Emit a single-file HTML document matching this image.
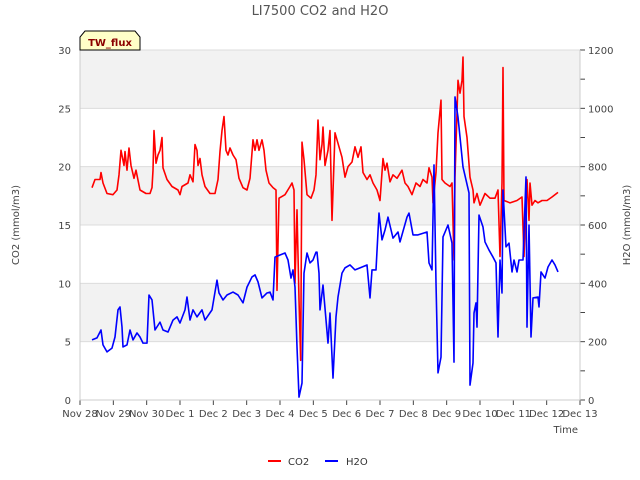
<!DOCTYPE html>
<html><head><meta charset="utf-8"><style>
body{margin:0;background:#fff;}
svg{display:block;font-family:"DejaVu Sans","Liberation Sans",sans-serif;}
</style></head><body>
<svg id="c" width="640" height="480"></svg>
<script>
const days=[0.36,0.45,0.60,0.63,0.69,0.81,0.99,1.11,1.17,1.23,1.32,1.35,1.41,1.47,1.53,1.62,1.68,1.80,1.98,2.10,2.16,2.19,2.22,2.28,2.34,2.40,2.46,2.49,2.61,2.76,2.94,3.00,3.06,3.24,3.30,3.39,3.45,3.51,3.54,3.60,3.66,3.75,3.90,4.05,4.14,4.20,4.26,4.32,4.38,4.44,4.50,4.59,4.68,4.77,4.89,5.01,5.10,5.19,5.25,5.31,5.37,5.46,5.52,5.58,5.67,5.79,5.88,5.91,5.97,6.15,6.30,6.36,6.42,6.45,6.51,6.57,6.62,6.66,6.72,6.81,6.93,7.02,7.08,7.14,7.20,7.26,7.29,7.35,7.44,7.50,7.56,7.65,7.74,7.86,7.95,8.04,8.16,8.25,8.34,8.43,8.49,8.61,8.70,8.79,8.91,9.00,9.09,9.15,9.21,9.30,9.39,9.51,9.66,9.75,9.84,9.96,10.08,10.20,10.29,10.41,10.47,10.56,10.59,10.68,10.74,10.83,10.86,10.95,11.10,11.16,11.22,11.25,11.34,11.40,11.46,11.49,11.52,11.61,11.70,11.79,11.82,11.91,12.00,12.15,12.30,12.45,12.54,12.60,12.66,12.69,12.72,12.81,12.90,13.11,13.26,13.32,13.41,13.47,13.50,13.56,13.65,13.74,13.86,14.01,14.16,14.34];
const co2=[18.2,18.9,18.9,19.5,18.6,17.7,17.6,18.0,19.3,21.4,20.1,21.3,19.7,21.6,20.1,19.0,19.7,18.0,17.7,17.7,18.2,19.7,23.1,20.3,21.0,21.4,22.5,19.9,18.9,18.3,18.0,17.6,18.3,18.6,19.3,18.7,21.9,21.4,20.1,20.7,19.3,18.3,17.7,17.7,18.9,21.3,23.1,24.3,21.4,21.0,21.6,21.0,20.6,19.0,18.2,18.0,19.0,22.3,21.4,22.3,21.4,22.3,21.4,19.7,18.6,18.2,18.0,9.4,17.3,17.6,18.3,18.6,18.0,10.0,16.3,8.6,3.4,22.1,20.6,17.6,17.3,18.0,19.3,24.0,20.6,21.9,23.4,20.1,21.4,23.1,15.4,22.9,22.0,20.8,19.1,20.0,20.4,21.7,20.8,21.7,19.5,18.9,19.3,18.6,18.0,17.1,20.7,19.7,20.3,18.7,19.3,19.0,19.7,18.6,18.3,17.6,18.6,18.3,18.9,18.6,19.9,19.1,16.9,19.5,22.9,25.7,18.9,18.6,18.3,18.6,12.0,19.1,27.4,26.3,27.4,29.4,24.3,22.5,19.1,18.0,16.9,17.7,16.7,17.7,17.3,17.3,18.0,12.3,18.6,28.5,17.1,17.0,16.9,17.1,17.4,12.3,18.9,15.4,18.6,16.7,17.1,16.9,17.1,17.1,17.4,17.8];
const h2oDays=[0.36,0.51,0.63,0.69,0.81,0.96,1.05,1.14,1.20,1.26,1.29,1.41,1.50,1.59,1.71,1.80,1.89,2.01,2.07,2.16,2.25,2.40,2.49,2.64,2.79,2.91,3.00,3.15,3.21,3.30,3.39,3.51,3.66,3.75,3.96,4.11,4.17,4.29,4.41,4.59,4.74,4.89,5.01,5.16,5.25,5.34,5.46,5.61,5.70,5.79,5.85,6.00,6.15,6.24,6.33,6.39,6.45,6.51,6.57,6.66,6.72,6.81,6.90,6.99,7.08,7.11,7.17,7.20,7.29,7.44,7.50,7.59,7.68,7.74,7.86,7.95,8.10,8.25,8.40,8.61,8.70,8.76,8.88,8.97,9.06,9.15,9.24,9.39,9.54,9.60,9.81,9.87,9.99,10.14,10.41,10.47,10.56,10.62,10.68,10.74,10.83,10.89,11.04,11.16,11.22,11.25,11.34,11.49,11.67,11.70,11.79,11.82,11.88,11.91,11.97,12.09,12.15,12.27,12.39,12.48,12.54,12.60,12.66,12.69,12.78,12.87,12.96,13.02,13.11,13.17,13.29,13.38,13.41,13.47,13.53,13.59,13.74,13.77,13.83,13.95,14.04,14.16,14.25,14.34];
const h2o=[206,213,240,189,165,178,216,309,319,250,182,189,240,206,230,216,195,195,360,343,240,267,240,233,274,285,264,309,353,274,309,285,309,274,309,411,367,343,360,370,360,333,387,422,429,405,350,367,370,343,490,497,504,480,418,446,387,182,10,58,435,504,470,480,507,507,435,309,394,195,298,75,285,353,435,453,463,446,453,463,350,446,446,641,549,583,627,555,576,542,627,641,566,566,576,470,446,806,401,93,147,559,600,538,130,1039,970,799,710,51,127,298,333,250,634,593,542,514,490,470,216,480,367,720,525,538,439,480,439,480,480,765,250,600,216,350,353,319,439,418,456,480,463,439];
const xTicks=["Nov 28","Nov 29","Nov 30","Dec 1","Dec 2","Dec 3","Dec 4","Dec 5","Dec 6","Dec 7","Dec 8","Dec 9","Dec 10","Dec 11","Dec 12","Dec 13"];
const leftTicks=[0,5,10,15,20,25,30];
const rightTicks=[0,200,400,600,800,1000,1200];

const L=80,R=580,T=50,B=400;
const sx=d=>L+(R-L)*d/15;
const sy=v=>B-(B-T)*v/30;
const sy2=v=>B-(B-T)*v/1200;
const NS="http://www.w3.org/2000/svg";
const svg=document.getElementById('c');
function mk(tag,at,parent){const e=document.createElementNS(NS,tag);for(const k in at)e.setAttribute(k,at[k]);(parent||svg).appendChild(e);return e;}

for(let i=0;i<6;i+=2){
  const b=mk('rect',{x:L,y:sy(leftTicks[i+1]+5),width:R-L,height:sy(0)-sy(5),fill:'#f2f2f2'});
  
  
}
leftTicks.forEach(v=>{
  const g=mk('line',{x1:L,x2:R,y1:sy(v),y2:sy(v),stroke:'#dcdcdc','stroke-width':1});
  
  
  const t=mk('text',{x:L-9,y:sy(v)+4,'text-anchor':'end','font-size':10,fill:'#444'});
  t.textContent=v;
  
  
});
rightTicks.forEach(v=>{
  const t=mk('text',{x:R+8,y:sy2(v)+4,'text-anchor':'start','font-size':10,fill:'#444'});
  t.textContent=v;
  
  
});
for(let v=0;v<=1200;v+=100){
  const k=mk('line',{x1:R,x2:R+5,y1:sy2(v),y2:sy2(v),stroke:'#444'});
  
  
}
xTicks.forEach((s,i)=>{
  const k=mk('line',{x1:sx(i),x2:sx(i),y1:B,y2:B+5,stroke:'#444'});
  
  
  const t=mk('text',{x:sx(i),y:B+17,'text-anchor':'middle','font-size':10,fill:'#444'});
  t.textContent=s;
  
  
});
const ax=mk('polyline',{points:`${L},${T} ${L},${B} ${R},${B} ${R},${T}`,fill:'none',stroke:'#ccc'});



const p1=mk('polyline',{points:days.map((d,i)=>sx(d)+','+sy(co2[i])).join(' '),fill:'none',stroke:'#ff0000','stroke-width':1.6,'stroke-linejoin':'round'});


const p2=mk('polyline',{points:h2oDays.map((d,i)=>sx(d)+','+sy2(h2o[i])).join(' '),fill:'none',stroke:'#0000ff','stroke-width':1.6,'stroke-linejoin':'round'});


</script>
<script>
(function(){
const NS="http://www.w3.org/2000/svg",svg=document.getElementById('c');
function mk(tag,at){const e=document.createElementNS(NS,tag);for(const k in at)e.setAttribute(k,at[k]);svg.appendChild(e);return e;}
let t;
t=mk('text',{x:320,y:15,'text-anchor':'middle','font-size':13,fill:'#555'});t.textContent='LI7500 CO2 and H2O';


t=mk('text',{x:19,y:225,'text-anchor':'middle','font-size':10,fill:'#444',transform:'rotate(-90 19 225)'});t.textContent='CO2 (mmol/m3)';


t=mk('text',{x:630,y:225,'text-anchor':'middle','font-size':10,fill:'#444',transform:'rotate(-90 630 225)'});t.textContent='H2O (mmol/m3)';


t=mk('text',{x:578,y:433,'text-anchor':'end','font-size':10,fill:'#444'});t.textContent='Time';


t=mk('path',{d:'M80,50 L80,37 L85,31 L135,31 L140,37 L140,50 Z',fill:'#ffffc8',stroke:'#000','stroke-width':1});


t=mk('text',{x:110,y:46,'text-anchor':'middle','font-size':10,'font-weight':'bold',fill:'#8b0000'});t.textContent='TW_flux';


t=mk('line',{x1:268,x2:281,y1:461,y2:461,stroke:'#ff0000','stroke-width':2});


t=mk('text',{x:288,y:465,'font-size':10,fill:'#333'});t.textContent='CO2';


t=mk('line',{x1:325,x2:338,y1:461,y2:461,stroke:'#0000ff','stroke-width':2});


t=mk('text',{x:346,y:465,'font-size':10,fill:'#333'});t.textContent='H2O';


})();
</script>
</body></html>
